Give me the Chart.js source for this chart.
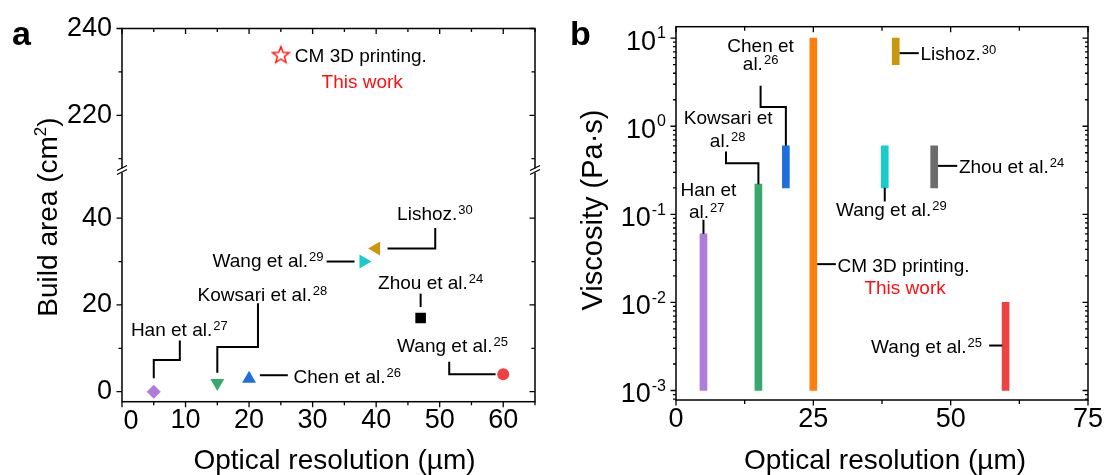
<!DOCTYPE html>
<html>
<head>
<meta charset="utf-8">
<script src="https://cdn.jsdelivr.net/npm/chart.js@4.4.1/dist/chart.umd.min.js"></script>
<style>
  html, body { margin: 0; padding: 0; background: #fff; }
  #wrap { position: relative; width: 1107px; height: 475px; overflow: hidden; }
  #wrap canvas { position: absolute; top: 0; }
  #chartA { left: 0; }
  #chartB { left: 555px; }
</style>
</head>
<body>
<div id="wrap">
  <canvas id="chartA" width="555" height="475"></canvas>
  <canvas id="chartB" width="552" height="475"></canvas>
</div>
<script>
const FONT = '"Liberation Sans", Arial, Helvetica, sans-serif';
Chart.defaults.font.family = FONT;
Chart.defaults.color = '#000';

// ---- panel a : build area vs optical resolution ----
const refNameA = ['Han et al.', 'Kowsari et al.', 'Chen et al.', 'Wang et al.', 'Lishoz.', 'Zhou et al.', 'Wang et al.'];
const refNoA = ['27', '28', '26', '29', '30', '24', '25'];
const resolutionA = [5, 15, 20, 38, 40, 47, 60];
const buildArea = [0, 2, 3, 30, 33, 17, 4];
const cmResolution = 25;
const cmArea = 234;

// ---- panel b : viscosity range vs optical resolution ----
const refNameB = ['Han et al.', 'Kowsari et al.', 'Chen et al.', 'CM 3D printing.', 'Wang et al.', 'Lishoz.', 'Zhou et al.', 'Wang et al.'];
const resolutionB = [5, 15, 20, 25, 38, 40, 47, 60];
const viscMin = [0.001, 0.001, 0.2, 0.001, 0.2, 5, 0.2, 0.001];
const viscMax = [0.06, 0.22, 0.6, 10, 0.6, 10, 0.6, 0.01];

// tick labels
const xTicksA = [0, 10, 20, 30, 40, 50, 60];
const yTicksLowA = [0, 20, 40];
const yTicksHighA = [220, 240];
const xTicksB = [0, 25, 50, 75];
const yExpB = [-3, -2, -1, 0, 1];

// styles
const markerColor = ['#b07cdc', '#38a96a', '#1e6fdc', '#18cccc', '#c9960c', '#000000', '#ee4242'];
const markerStyle = ['rectRot', 'triangle', 'triangle', 'triangle', 'triangle', 'rect', 'circle'];
const markerRot = [0, 180, 0, 90, -90, 0, 0];
const markerSize = [7, 8, 8, 8, 8, 7.5, 6];
const barColor = ['#b07cdc', '#38a96a', '#1e6fdc', '#ff7f0e', '#18cccc', '#c9960c', '#6c6c6c', '#ee4242'];
const RED = '#ff1010';

// callouts (data coordinates)
const calloutsA = [
  { i: 4, x: 43.3, y: 39.5, path: [[49.3, 37.7], [49.3, 33], [41.8, 33]] },
  { i: 3, x: 31.7, y: 28.7, align: 'right', path: [[32.2, 30], [36.6, 30]] },
  { i: 5, x: 40.3, y: 23.6, path: [[47, 22.6], [47, 19.5]] },
  { i: 6, x: 43.3, y: 9.2, path: [[51.5, 6.9], [51.5, 4], [58.8, 4]] },
  { i: 2, x: 27.0, y: 2.1, path: [[21.7, 3.8], [26.1, 3.8]] },
  { i: 1, x: 11.9, y: 21.0, path: [[21.4, 20.4], [21.4, 10.3], [15, 10.3], [15, 4.4]] },
  { i: 0, x: 1.4, y: 12.9, path: [[9.1, 11.8], [9.1, 7.3], [5, 7.3], [5, 3.1]] }
];
const calloutsB = [
  { t: 'Chen et', x: 15.4, y: 7.05, align: 'center' },
  { t: 'al.', s: '26', x: 15.4, y: 4.37, align: 'center', path: [[15.4, 2.88], [15.4, 1.65], [20, 1.65], [20, 0.6]] },
  { t: 'Kowsari et', x: 9.5, y: 1.06, align: 'center' },
  { t: 'al.', s: '28', x: 9.4, y: 0.589, align: 'center', path: [[9.1, 0.516], [9.1, 0.381], [15, 0.381], [15, 0.22]] },
  { t: 'Han et', x: 5.9, y: 0.162, align: 'center' },
  { t: 'al.', s: '27', x: 5.6, y: 0.0906, align: 'center', path: [[5, 0.0867], [5, 0.06]] },
  { t: 'Lishoz.', s: '30', x: 44.5, y: 5.68, path: [[40.7, 6.76], [44.2, 6.76]] },
  { t: 'Zhou et al.', s: '24', x: 51.5, y: 0.298, path: [[47.7, 0.355], [51.2, 0.355]] },
  { t: 'Wang et al.', s: '29', x: 39.2, y: 0.096, align: 'center', path: [[38, 0.2], [38, 0.14]] },
  { t: 'CM 3D printing.', x: 29.4, y: 0.0224, path: [[25.7, 0.0272], [29.1, 0.0272]] },
  { t: 'This work', x: 41.7, y: 0.0126, align: 'center', color: RED },
  { t: 'Wang et al.', s: '25', x: 55.7, y: 0.0027, align: 'right', path: [[57, 0.00324], [59.4, 0.00324]] }
];

// text with an optional superscript, alphabetic baseline at y
function richText(ctx, x, y, parts, align, color) {
  let w = 0;
  parts.forEach(p => { ctx.font = p.size + 'px ' + FONT; p.w = ctx.measureText(p.t).width; w += p.w + (p.gap || 0); });
  let x0 = align === 'center' ? x - w / 2 : align === 'right' ? x - w : x;
  ctx.textAlign = 'left';
  ctx.textBaseline = 'alphabetic';
  ctx.fillStyle = color || '#000';
  parts.forEach(p => {
    x0 += p.gap || 0;
    ctx.font = p.size + 'px ' + FONT;
    ctx.fillText(p.t, x0, y - (p.dy || 0));
    x0 += p.w;
  });
}
function refText(ctx, x, y, main, sup, align, color) {
  const parts = [{ t: main, size: 19 }];
  if (sup) parts.push({ t: sup, size: 13, dy: 6, gap: 1 });
  richText(ctx, x, y, parts, align, color);
}
function polyline(ctx, pts) {
  ctx.beginPath();
  pts.forEach((p, k) => k ? ctx.lineTo(p[0], p[1]) : ctx.moveTo(p[0], p[1]));
  ctx.stroke();
}
function ticksX(ctx, scale, area, vals, len) {
  ctx.beginPath();
  vals.forEach(v => {
    const px = scale.getPixelForValue(v);
    ctx.moveTo(px, area.bottom); ctx.lineTo(px, area.bottom + len);
    ctx.moveTo(px, area.top); ctx.lineTo(px, area.top + len);
  });
  ctx.stroke();
}
function ticksY(ctx, scale, area, vals, len) {
  ctx.beginPath();
  vals.forEach(v => {
    const py = scale.getPixelForValue(v);
    ctx.moveTo(area.left, py); ctx.lineTo(area.left - len, py);
    ctx.moveTo(area.right, py); ctx.lineTo(area.right - len, py);
  });
  ctx.stroke();
}
function setTicks(vals) {
  return scale => { scale.ticks = vals.map(v => ({ value: v })); };
}

// open red star for "this work"
const starImg = (() => {
  const c = document.createElement('canvas');
  c.width = 20; c.height = 20;
  const g = c.getContext('2d');
  g.strokeStyle = RED; g.lineWidth = 1.4;
  g.beginPath();
  for (let k = 0; k < 10; k++) {
    const r = k % 2 ? 3.7 : 8.8;
    const a = -Math.PI / 2 + k * Math.PI / 5;
    const px = 10 + r * Math.cos(a), py = 10.8 + r * Math.sin(a);
    k ? g.lineTo(px, py) : g.moveTo(px, py);
  }
  g.closePath(); g.stroke();
  return c;
})();

const framePluginA = {
  id: 'frameA',
  afterDraw(chart) {
    const { ctx, chartArea: a, scales } = chart;
    const sx = scales.x, yt = scales.yTop, yb = scales.yBot;
    ctx.save();
    ctx.strokeStyle = '#000';
    ctx.lineWidth = 1.5;
    ctx.strokeRect(a.left, a.top, a.width, a.height);
    ctx.lineWidth = 1.3;
    ticksX(ctx, sx, a, [0, 10, 20, 30, 40, 50, 60], 5.5);
    ticksX(ctx, sx, a, [5, 15, 25, 35, 45, 55, 65], 3.5);
    ticksY(ctx, yb, a, yTicksLowA, 5.5);
    ticksY(ctx, yb, a, [10, 30], 3.5);
    ticksY(ctx, yt, a, yTicksHighA, 5.5);
    ticksY(ctx, yt, a, [210, 230], 3.5);
    // axis break
    const brk = yt.top < yb.top ? yt.bottom : yt.top;
    [a.left, a.right].forEach(x0 => {
      ctx.fillStyle = '#fff';
      ctx.fillRect(x0 - 3, brk - 1, 6, 4);
      ctx.lineWidth = 1.3;
      ctx.beginPath();
      ctx.moveTo(x0 - 5, brk + 1); ctx.lineTo(x0 + 5, brk - 4);
      ctx.moveTo(x0 - 5, brk + 5); ctx.lineTo(x0 + 5, brk);
      ctx.stroke();
    });
    // first x label sits a bit right of its tick
    ctx.fillStyle = '#000';
    ctx.font = '27px ' + FONT;
    ctx.textAlign = 'center'; ctx.textBaseline = 'middle';
    ctx.fillText('0', sx.getPixelForValue(0) + 9, a.bottom + 20);
    // callouts
    ctx.lineWidth = 2;
    calloutsA.forEach(c => {
      refText(ctx, sx.getPixelForValue(c.x), yb.getPixelForValue(c.y), refNameA[c.i], refNoA[c.i], c.align);
      polyline(ctx, c.path.map(p => [sx.getPixelForValue(p[0]), yb.getPixelForValue(p[1])]));
    });
    refText(ctx, sx.getPixelForValue(27.2), yt.getPixelForValue(232.2), 'CM 3D printing.', null, 'left');
    refText(ctx, sx.getPixelForValue(37.8), yt.getPixelForValue(226.4), 'This work', null, 'center', RED);
    // titles
    richText(ctx, (a.left + a.right) / 2 + 6, 469, [{ t: 'Optical resolution (\u00b5m)', size: 28 }], 'center');
    ctx.save();
    ctx.translate(57, 217);
    ctx.rotate(-Math.PI / 2);
    richText(ctx, 0, 0, [{ t: 'Build area (cm', size: 28 }, { t: '2', size: 17, dy: 11 }, { t: ')', size: 28 }], 'center');
    ctx.restore();
    ctx.font = 'bold 34px ' + FONT;
    ctx.textAlign = 'left'; ctx.textBaseline = 'alphabetic'; ctx.fillStyle = '#000';
    ctx.fillText('a', 12, 45);
    ctx.restore();
  }
};

const framePluginB = {
  id: 'frameB',
  afterDraw(chart) {
    const { ctx, chartArea: a, scales } = chart;
    const sx = scales.x, sy = scales.y;
    ctx.save();
    ctx.strokeStyle = '#000';
    ctx.lineWidth = 1.5;
    ctx.strokeRect(a.left, a.top, a.width, a.height);
    ctx.lineWidth = 1.3;
    ticksX(ctx, sx, a, xTicksB, 5.5);
    ticksX(ctx, sx, a, [12.5, 37.5, 62.5], 4);
    ticksY(ctx, sy, a, yExpB.map(e => Math.pow(10, e)), 5.5);
    const minor = [];
    for (let e = -4; e <= 1; e++) for (let m = 2; m <= 9; m++) {
      const v = m * Math.pow(10, e);
      if (v > sy.min && v < sy.max) minor.push(v);
    }
    ticksY(ctx, sy, a, minor, 3);
    // y tick labels 10^n
    yExpB.forEach(e => {
      const py = sy.getPixelForValue(Math.pow(10, e));
      richText(ctx, a.left - 10, py + 11.5, [{ t: '10', size: 27 }, { t: String(e), size: 16, dy: 11.3, gap: 1 }], 'right');
    });
    // callouts
    ctx.lineWidth = 2;
    calloutsB.forEach(c => {
      refText(ctx, sx.getPixelForValue(c.x), sy.getPixelForValue(c.y), c.t, c.s, c.align, c.color);
      if (c.path) polyline(ctx, c.path.map(p => [sx.getPixelForValue(p[0]), sy.getPixelForValue(p[1])]));
    });
    // titles
    richText(ctx, (a.left + a.right) / 2 + 3, 469, [{ t: 'Optical resolution (\u00b5m)', size: 28 }], 'center');
    ctx.save();
    ctx.translate(47, 210);
    ctx.rotate(-Math.PI / 2);
    richText(ctx, 0, 0, [{ t: 'Viscosity (Pa\u00b7s)', size: 29 }], 'center');
    ctx.restore();
    ctx.font = 'bold 34px ' + FONT;
    ctx.textAlign = 'left'; ctx.textBaseline = 'alphabetic'; ctx.fillStyle = '#000';
    ctx.fillText('b', 15, 45);
    ctx.restore();
  }
};

const tickFont = { size: 27 };

new Chart(document.getElementById('chartA'), {
  type: 'scatter',
  data: {
    datasets: [
      {
        label: 'references',
        data: resolutionA.map((x, i) => ({ x: x, y: buildArea[i] })),
        yAxisID: 'yBot',
        pointStyle: markerStyle,
        rotation: markerRot,
        pointRadius: markerSize,
        pointBackgroundColor: markerColor,
        pointBorderWidth: 0
      },
      {
        label: 'CM 3D printing',
        data: [{ x: cmResolution, y: cmArea }],
        yAxisID: 'yTop',
        pointStyle: starImg,
        pointRadius: 9
      }
    ]
  },
  options: {
    responsive: false,
    animation: false,
    layout: { padding: { top: 28.5, right: 20, left: 0, bottom: 0 } },
    plugins: { legend: { display: false }, tooltip: { enabled: false } },
    scales: {
      x: {
        type: 'linear', min: 0, max: 65,
        grid: { display: false, drawTicks: false }, border: { display: false },
        afterBuildTicks: setTicks(xTicksA),
        afterFit: s => { s.height = 73.3; },
        ticks: { font: tickFont, padding: 3, maxRotation: 0, callback: v => v === 0 ? '' : v }
      },
      // the lower segment is listed first so it sits at the bottom of the stack
      yBot: {
        type: 'linear', position: 'left', stack: 'area', stackWeight: 53.5,
        min: -2.3, max: 51.2,
        grid: { display: false, drawTicks: false }, border: { display: false },
        afterBuildTicks: setTicks(yTicksLowA),
        afterFit: s => { s.width = 122; },
        ticks: { font: tickFont, padding: 10 }
      },
      yTop: {
        type: 'linear', position: 'left', stack: 'area', stackWeight: 32.5,
        min: 207.5, max: 240,
        grid: { display: false, drawTicks: false }, border: { display: false },
        afterBuildTicks: setTicks(yTicksHighA),
        afterFit: s => { s.width = 122; },
        ticks: { font: tickFont, padding: 10 }
      }
    }
  },
  plugins: [framePluginA]
});

new Chart(document.getElementById('chartB'), {
  type: 'bar',
  data: {
    datasets: [{
      label: 'viscosity range',
      data: resolutionB.map((x, i) => ({ x: x, y: [viscMin[i], viscMax[i]] })),
      backgroundColor: barColor,
      borderWidth: 0,
      barThickness: 7
    }]
  },
  options: {
    responsive: false,
    animation: false,
    layout: { padding: { top: 26.7, right: 19, left: 0, bottom: 0 } },
    plugins: { legend: { display: false }, tooltip: { enabled: false } },
    scales: {
      x: {
        type: 'linear', min: 0, max: 75, offset: false,
        grid: { display: false, drawTicks: false, offset: false }, border: { display: false },
        afterBuildTicks: setTicks(xTicksB),
        afterFit: s => { s.height = 75; },
        ticks: { font: tickFont, padding: 3, maxRotation: 0 }
      },
      y: {
        type: 'logarithmic', min: 0.00078, max: 13.5,
        grid: { display: false, drawTicks: false }, border: { display: false },
        afterBuildTicks: setTicks(yExpB.map(e => Math.pow(10, e))),
        afterFit: s => { s.width = 121; },
        ticks: { display: false }
      }
    }
  },
  plugins: [framePluginB]
});
</script>
</body>
</html>
